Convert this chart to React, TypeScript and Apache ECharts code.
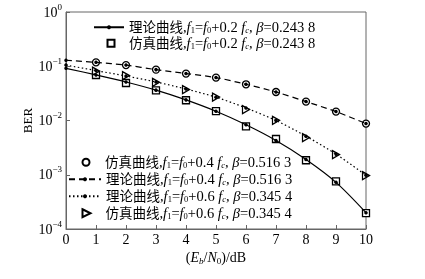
import React, { useEffect, useRef } from 'react';
import * as echarts from 'echarts';

// Eb/N0 (dB)
const snrDb = [0, 1, 2, 3, 4, 5, 6, 7, 8, 9, 10];
const simSnrDb = [1, 2, 3, 4, 5, 6, 7, 8, 9, 10];

// theory, f1=f0+0.2fc, beta=0.2438 (solid)
const theory02 = [0.0916, 0.0692, 0.0513, 0.0363, 0.024, 0.0148, 0.00832, 0.00427, 0.00191, 0.000724, 0.0002];
// simulation, f1=f0+0.2fc (squares)
const sim02 = [0.069, 0.0491, 0.036, 0.0236, 0.0149, 0.00781, 0.00456, 0.00185, 0.000757, 0.000197];
// theory, f1=f0+0.4fc, beta=0.5163 (dashed)
const theory04 = [0.129, 0.118, 0.105, 0.0867, 0.0733, 0.0618, 0.0465, 0.0335, 0.0223, 0.0146, 0.00877];
// simulation, f1=f0+0.4fc (circles)
const sim04 = [0.118, 0.105, 0.0867, 0.0733, 0.0618, 0.0465, 0.0335, 0.0223, 0.0146, 0.00877];
// theory, f1=f0+0.6fc, beta=0.3454 (dotted)
const theory06 = [0.105, 0.0832, 0.0661, 0.0513, 0.038, 0.0269, 0.017, 0.01, 0.00513, 0.0024, 0.000977];
// simulation, f1=f0+0.6fc (triangles)
const sim06 = [0.0817, 0.0672, 0.0506, 0.0371, 0.0271, 0.0159, 0.0101, 0.00484, 0.00235, 0.000964];

const yTickExponents = [0, -1, -2, -3, -4];
const xTicks = [0, 10, 1];

const SERIF = '"Liberation Serif", "Times New Roman", "Noto Sans CJK SC", serif';

const legendLabel = (kind: string, k: string, beta: string) =>
  `{c|${kind}}{n|,}{i|f}{s|1}{n|=}{i|f}{s|0}{n|+${k} }{i|f}{si|c}{n|, }{i|β}{n|=${beta}}`;

const labels: Record<string, string> = {
  t02: legendLabel('理论曲线', '0.2', '0.243 8'),
  s02: legendLabel('仿真曲线', '0.2', '0.243 8'),
  s04: legendLabel('仿真曲线', '0.4', '0.516 3'),
  t04: legendLabel('理论曲线', '0.4', '0.516 3'),
  t06: legendLabel('理论曲线', '0.6', '0.345 4'),
  s06: legendLabel('仿真曲线', '0.6', '0.345 4'),
};

const legendRich = {
  c: { fontFamily: SERIF, fontSize: 13.5, lineHeight: 15, color: '#000' },
  n: { fontFamily: SERIF, fontSize: 14.5, lineHeight: 15, color: '#000' },
  i: { fontFamily: SERIF, fontSize: 14.5, lineHeight: 15, fontStyle: 'italic', color: '#000' },
  s: { fontFamily: SERIF, fontSize: 8.5, lineHeight: 6, verticalAlign: 'bottom', color: '#000' },
  si: { fontFamily: SERIF, fontSize: 8.5, lineHeight: 6, verticalAlign: 'bottom', fontStyle: 'italic', color: '#000' },
};

function makeLegend(name: string, left: number, top: number, itemWidth: number, itemHeight: number) {
  return {
    data: [name],
    left,
    top,
    orient: 'vertical',
    itemWidth,
    itemHeight,
    itemGap: 0,
    padding: 0,
    selectedMode: false,
    formatter: (n: string) => labels[n],
    textStyle: { rich: legendRich },
  };
}

const TRIANGLE = 'path://M0,0L10,5L0,10Z';
const SQUARE = 'path://M0,0L10,0L10,10L0,10Z';
const CIRCLE = 'path://M5,0A5,5,0,1,1,5,10A5,5,0,1,1,5,0Z';

export default function App() {
  const ref = useRef<HTMLDivElement>(null);
  useEffect(() => {
    if (!ref.current) return;
    const chart = echarts.init(ref.current, undefined, { renderer: 'svg' });
    const lineSeries = (name: string, ys: number[], type: any) => ({
      name,
      type: 'line',
      data: snrDb.map((x, i) => [x, ys[i]]),
      smooth: 0.3,
      symbol: 'circle',
      symbolSize: 3.5,
      itemStyle: { color: '#000' },
      lineStyle: { color: '#000', width: 1.2, type },
      z: 3,
    });
    const simSeries = (name: string, ys: number[], symbol: string, size: any) => ({
      name,
      type: 'scatter',
      data: simSnrDb.map((x, i) => [x, ys[i]]),
      symbol,
      symbolSize: size,
      itemStyle: { color: '#fff', borderColor: '#000', borderWidth: 1.3, opacity: 1 },
      z: 2,
    });
    chart.setOption({
      animation: false,
      textStyle: { fontFamily: SERIF },
      grid: { left: 66, right: 59, top: 12, bottom: 50, show: true, borderColor: '#666', borderWidth: 1 },
      legend: [
        makeLegend('t02', 93, 20, 30, 5),
        makeLegend('s02', 106.5, 36, 26, 7),
        makeLegend('t04', 68, 172, 32, 5),
        makeLegend('t06', 68, 189, 32, 5),
        makeLegend('s04', 81.5, 155, 28, 7),
        makeLegend('s06', 81.5, 206, 28, 8),
      ],
      xAxis: {
        type: 'value',
        min: xTicks[0],
        max: xTicks[1],
        interval: xTicks[2],
        name: '({i|E}{si|b}/{i|N}{s|0})/dB',
        nameLocation: 'middle',
        nameGap: 9,
        nameTextStyle: {
          fontFamily: SERIF,
          fontSize: 14,
          color: '#000',
          rich: {
            i: { fontFamily: SERIF, fontSize: 14, lineHeight: 16, fontStyle: 'italic', color: '#000' },
            s: { fontFamily: SERIF, fontSize: 9, lineHeight: 7, verticalAlign: 'bottom', color: '#000' },
            si: { fontFamily: SERIF, fontSize: 9, lineHeight: 7, verticalAlign: 'bottom', fontStyle: 'italic', color: '#000' },
          },
        },
        axisLine: { lineStyle: { color: '#666' } },
        axisTick: { inside: true, length: 4, lineStyle: { color: '#666' } },
        axisLabel: { fontFamily: SERIF, fontSize: 14, color: '#000', margin: 3 },
        splitLine: { show: false },
      },
      yAxis: {
        type: 'log',
        logBase: 10,
        min: Math.pow(10, yTickExponents[yTickExponents.length - 1]),
        max: Math.pow(10, yTickExponents[0]),
        name: 'BER',
        nameLocation: 'middle',
        nameGap: 32,
        nameMoveOverlap: false,
        nameTextStyle: { fontFamily: SERIF, fontSize: 13, color: '#000' },
        axisLine: { show: true, lineStyle: { color: '#666' } },
        axisTick: { inside: true, length: 4, lineStyle: { color: '#666' } },
        minorTick: { show: false },
        splitLine: { show: false },
        axisLabel: {
          margin: 4,
          formatter: (v: number) => {
            const e = Math.round(Math.log10(v));
            return `{b|10}{s|${e === 0 ? '0' : '−' + Math.abs(e)}}`;
          },
          rich: {
            b: { fontFamily: SERIF, fontSize: 14, lineHeight: 20, color: '#000' },
            s: { fontFamily: SERIF, fontSize: 9, lineHeight: 9, verticalAlign: 'top', color: '#000' },
          },
        },
      },
      series: [
        lineSeries('t02', theory02, 'solid'),
        simSeries('s02', sim02, SQUARE, 7),
        lineSeries('t04', theory04, [6, 4]),
        simSeries('s04', sim04, CIRCLE, 7),
        lineSeries('t06', theory06, [1.5, 2.5]),
        simSeries('s06', sim06, TRIANGLE, [7, 8]),
      ],
    });
    return () => chart.dispose();
  }, []);
  return <div ref={ref} style={{ position: 'fixed', left: 0, top: 0, width: 425, height: 279 }} />;
}
